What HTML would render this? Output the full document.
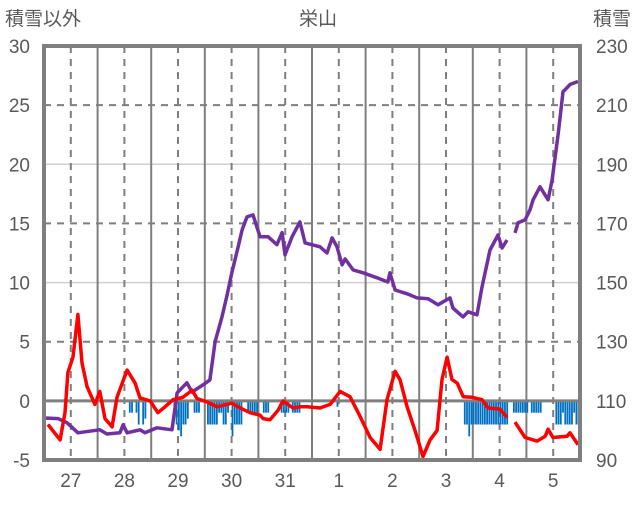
<!DOCTYPE html>
<html><head><meta charset="utf-8"><style>
body{margin:0;background:#fff}
svg text{font-family:"Liberation Sans","Noto Sans CJK JP",sans-serif;fill:#595959}
</style></head><body>
<svg id="c" width="636" height="501"></svg>
<script>
const dayLabels=["27","28","29","30","31","1","2","3","4","5"];
const leftTicks=[30,25,20,15,10,5,0,-5];
const rightTicks=[230,210,190,170,150,130,110,90];
const tempHours=[1.8,7.2,9.4,10.7,13,15.2,17,19.3,22.8,25,27.3,30.5,32.7,37.2,40.8,43,47.5,51,54.2,57.8,62.2,66.3,68.5,73,77.5,84.2,87.8,92.3,96.7,98.1,101.2,104.8,107,111.5,114.6,117.8,123.6,128.1,132.6,137,141.5,146,150.5,153.6,157.2,159.4,162.6,166.1,169.7,172.9,176,178.2,180.5,182.7,185,187.7,191.7,196.1,198.8,204.2,207.3,null,210.9,215.4,220.8,224.4,225.7,227.9,234.2,235.5,239.1];
const tempVals=[-2.0,-3.3,-1.0,2.4,3.7,7.3,3.2,1.2,-0.3,0.8,-1.5,-2.2,0.3,2.6,1.5,0.25,0,-1.0,-0.5,0.1,0.3,0.9,0.2,-0.1,-0.5,-0.2,-0.6,-1.0,-1.2,-1.5,-1.6,-0.8,0,-0.6,-0.5,-0.5,-0.6,-0.3,0.8,0.35,-1.3,-3.1,-4.1,0.1,2.5,1.8,-0.5,-2.5,-4.7,-3.3,-2.5,1.8,3.7,1.8,1.5,0.35,0.3,0.1,-0.6,-0.7,-1.4,null,-1.8,-3.1,-3.4,-3.0,-2.4,-3.1,-3.0,-2.7,-3.7];
const snowHours=[0,6.3,10.3,15.2,25,28.2,34,35.4,37.2,43,45.2,50.6,57.3,59.6,64,66.3,71.2,74.3,76.6,79.7,82,84.2,86.9,88.7,90.9,93.6,96.7,100.3,104.3,106.6,107.9,111.1,114.6,116.9,123.6,126.7,129,131.2,133.5,134.8,138.4,142.9,149.1,154,154.9,157.2,162.6,167,172,176.4,181.8,183.1,187.6,189.9,193.9,196.1,199.7,203.3,205.1,207.3,null,210.9,212.3,215.4,217.6,219,222.1,225.7,227.5,230.2,232.4,235.6,239.1];
const snowVals=[104.2,104,102.6,99.2,100.2,98.8,99.2,101.9,99.2,100.2,99.2,100.9,100.2,112.7,116.1,113,115.4,117.1,130,138.4,145.8,153.6,162,167.8,172.2,172.9,165.5,165.5,162.8,166.9,159.4,165.5,170.5,163.4,162.1,160,165.1,162.1,156,158,154.3,153.3,151.6,150.2,153.3,147.5,146.2,144.8,144.5,142.5,144.8,141.4,138.4,140.1,139.1,148.5,161,166.1,161.7,164.4,null,166.8,170.2,171.2,174.6,178,182.4,178,184.7,200,214.5,217,218];
const barHours=[38,39,41,42,44,45,58,59,60,61,62,63,64,67,68,69,73,74,75,76,77,78,79,80,81,82,84,85,86,87,88,91,92,93,94,95,98,99,100,106,107,108,109,111,112,113,114,131,188,189,190,191,192,193,194,195,196,197,198,199,200,201,202,203,204,205,206,207,210,211,212,213,214,215,216,218,219,220,221,222,229,230,231,232,233,234,235,236,237,238,239];
const barVals=[1,1,1,2,2,1.5,1,2,2.5,3,2,2,1.5,1,1,1,2,2,2,2,2,1,1,2,2,1,3,2,2,2,2,1,1,1,1,1,1,1,1,1,1,1,1,1,1,1,1,0.5,2,2,3,2,2,2,2,2,2,2,2,2,2,2,2,2,2,2,2,2,1,1,1,1,1,1,1,1,1,1,1,1,2,2,2,1,2,2,2,2,1,2,2];

const NS="http://www.w3.org/2000/svg";
const svg=document.getElementById('c');
const L=44,R=580,T=46,B=460;
const X=h=>L+h*(R-L)/240;
const Y=v=>T+(30-v)*(B-T)/35;
const YR=v=>T+(230-v)*(B-T)/140;
function mk(t,a){const e=document.createElementNS(NS,t);for(const k in a)e.setAttribute(k,a[k]);svg.appendChild(e);return e;}
leftTicks.forEach(v=>{
 if(v===30||v===-5||v===0)return;
 const g=mk('line',{x1:L,x2:R,y1:Y(v),y2:Y(v),stroke:v%10===0?'#d0d0d0':'#7f7f7f','stroke-width':v%10===0?1.5:2,'stroke-dasharray':v%10===0?'':'7,6'});
 
 
});
for(let d=0;d<10;d++){
 const gl=mk('line',{x1:X(d*24+12),x2:X(d*24+12),y1:T,y2:B,stroke:'#7f7f7f','stroke-width':2,'stroke-dasharray':'7,6'});
 
 
 if(d>0){const s=mk('line',{x1:X(d*24),x2:X(d*24),y1:T,y2:B,stroke:'#7f7f7f','stroke-width':2});
 
 }
}
barHours.forEach((h,i)=>{
 const b=mk('rect',{x:X(h),y:Y(0),width:1.8,height:Y(-barVals[i])-Y(0),fill:'#0070c0'});
 
 
});
const z=mk('line',{x1:L,x2:R,y1:Y(0),y2:Y(0),stroke:'#7f7f7f','stroke-width':3});


function path(hs,vs,yf){let d='',pen=false;hs.forEach((h,i)=>{if(h===null||vs[i]===null){pen=false;return;}d+=(pen?'L':'M')+X(h).toFixed(1)+','+yf(vs[i]).toFixed(1);pen=true;});return d;}
const sp=mk('path',{d:path(snowHours,snowVals,YR),fill:'none',stroke:'#7030a0','stroke-width':3.5,'stroke-linejoin':'round'});


const tp=mk('path',{d:path(tempHours,tempVals,Y),fill:'none',stroke:'#ff0000','stroke-width':3.5,'stroke-linejoin':'round'});


const fr=mk('rect',{x:L,y:T,width:R-L,height:B-T,fill:'none',stroke:'#7f7f7f','stroke-width':4});


leftTicks.forEach(v=>{const t=mk('text',{x:30,y:Y(v)+7,'text-anchor':'end','font-size':19});t.textContent=v;
 
 });
rightTicks.forEach(v=>{const t=mk('text',{x:596,y:YR(v)+7,'font-size':19});t.textContent=v;
 
 });
dayLabels.forEach((s,d)=>{const t=mk('text',{x:X(d*24+12),y:487,'text-anchor':'middle','font-size':19});t.textContent=s;
 
 });
const t1=mk('text',{x:318,y:25,'text-anchor':'middle','font-size':19});t1.textContent='栄山';


const t2=mk('text',{x:5,y:25,'font-size':19});t2.textContent='積雪以外';


const t3=mk('text',{x:631,y:25,'text-anchor':'end','font-size':19});t3.textContent='積雪';


</script>
</body></html>
